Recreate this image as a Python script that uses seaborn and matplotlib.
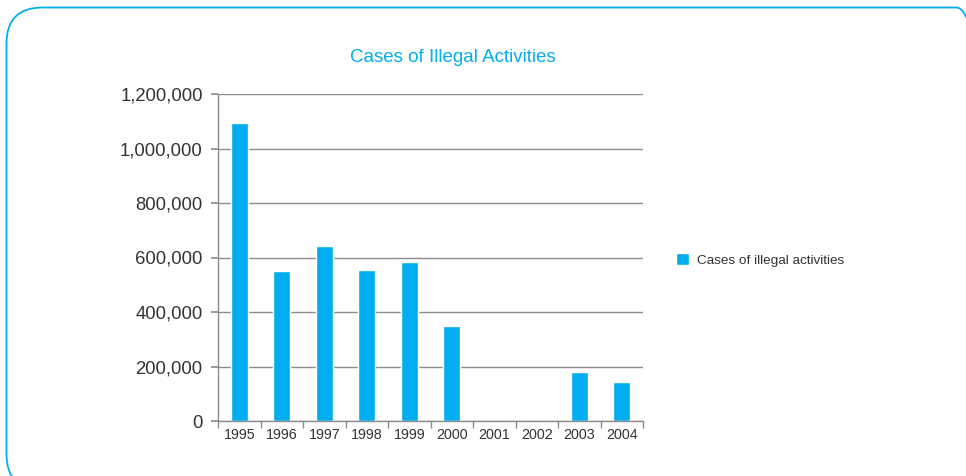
import matplotlib
matplotlib.use("Agg")
import matplotlib.pyplot as plt
from matplotlib.patches import FancyBboxPatch
from matplotlib.ticker import FuncFormatter, FixedLocator
import seaborn as sns
import pandas as pd

years = ["1995", "1996", "1997", "1998", "1999", "2000", "2001", "2002", "2003", "2004"]
cases = [1095000, 550000, 642000, 554000, 583000, 349000, 0, 0, 180000, 143000]
series_name = "Cases of illegal activities"
title = "Cases of Illegal Activities"

sns.set_theme(style="white")
plt.rcParams['font.family'] = ['Liberation Sans', 'DejaVu Sans']

BLUE = "#00AEEF"
GRAY = "#8C8C8C"
W, H = 966, 476

df = pd.DataFrame({"year": years, "cases": cases, "series": series_name})

fig = plt.figure(figsize=(W / 100, H / 100), dpi=100)

# background frame in pixel coordinates (origin bottom-left)
bg = fig.add_axes([0, 0, 1, 1])
bg.set_xlim(0, W)
bg.set_ylim(0, H)
bg.axis("off")
top_px, bottom_px = 7.5, 490
bg.add_patch(FancyBboxPatch((6.5, H - bottom_px), 986, bottom_px - top_px,
                            boxstyle="round,pad=0,rounding_size=36",
                            fill=False, edgecolor=BLUE, linewidth=1.3))

ax = fig.add_axes([218 / W, 1 - 421 / H, (643 - 218) / W, (421 - 94) / H])

sns.barplot(data=df, x="year", y="cases", hue="series", palette=[BLUE],
            width=0.4, ax=ax, saturation=1, legend=True)

ax.set_ylim(0, 1200000)
ax.set_xlim(-0.5, len(years) - 0.5)
ax.set_yticks(range(0, 1200001, 200000))
ax.yaxis.set_major_formatter(FuncFormatter(lambda v, p: f"{int(v):,}"))
ax.yaxis.grid(True, color=GRAY, linewidth=1)
ax.set_axisbelow(True)
ax.set_xlabel("")
ax.set_ylabel("")

for s in ["top", "right"]:
    ax.spines[s].set_visible(False)
for s in ["left", "bottom"]:
    ax.spines[s].set_color(GRAY)
    ax.spines[s].set_linewidth(1)

ax.tick_params(axis="y", which="major", left=True, length=5, color=GRAY,
               labelsize=13.3, labelcolor="#333333", pad=6)
ax.tick_params(axis="x", which="major", length=0, labelsize=10.3,
               labelcolor="#333333", pad=5)
ax.xaxis.set_minor_locator(FixedLocator([i + 0.5 for i in range(-1, len(years))]))
ax.tick_params(axis="x", which="minor", bottom=True, length=5, color=GRAY, width=1)

ax.legend(loc="center left", bbox_to_anchor=(664 / W, 1 - 260 / H),
          bbox_transform=fig.transFigure, frameon=False, fontsize=9.7,
          handlelength=0.95, handleheight=0.95, handletextpad=0.6,
          labelcolor="#333333")

fig.text(453 / W, 1 - 57 / H, title, ha="center", va="center", fontsize=13.5, color=BLUE)

fig.savefig("out.png", dpi=100)
